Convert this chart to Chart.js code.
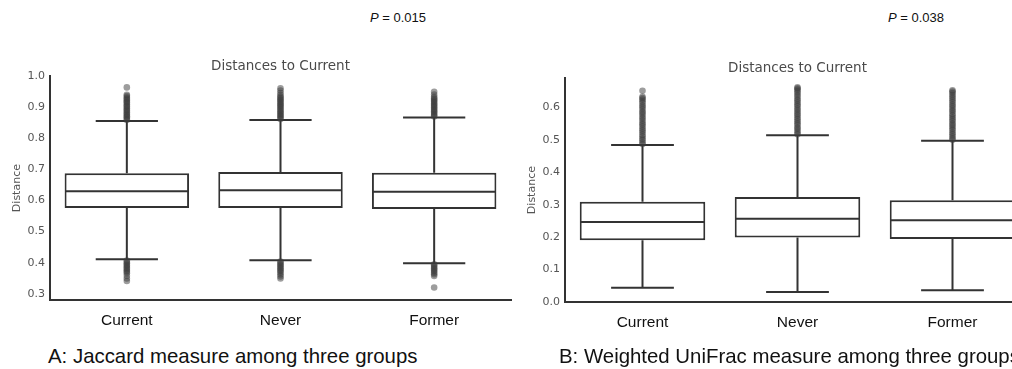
<!DOCTYPE html>
<html>
<head>
<meta charset="utf-8">
<script src="https://cdn.jsdelivr.net/npm/chart.js@4.4.1/dist/chart.umd.min.js"></script>
<style>
  html, body { margin:0; padding:0; background:#fff; width:1012px; height:369px; overflow:hidden; position:relative; }
  canvas { position:absolute; }
  .ptxt { position:absolute; font-family:"Liberation Sans", Arial, sans-serif; font-size:13px; line-height:13px; color:#111; white-space:nowrap; }
  .cap { position:absolute; font-family:"Liberation Sans", Arial, sans-serif; font-size:20.4px; line-height:20px; color:#111; white-space:nowrap; }
</style>
</head>
<body>
<div class="ptxt" style="left:370px; top:11px;"><i>P</i> = 0.015</div>
<div class="ptxt" style="left:888px; top:11px;"><i>P</i> = 0.038</div>
<canvas id="cA" width="520" height="340" style="left:0px; top:0px;"></canvas>
<canvas id="cB" width="530" height="340" style="left:510px; top:2px;"></canvas>
<div class="cap" style="left:48px; top:346px;">A: Jaccard measure among three groups</div>
<div class="cap" style="left:559px; top:346px;">B: Weighted UniFrac measure among three groups</div>
<script>
// ---------- data ----------
const categories = ['Current', 'Never', 'Former'];
const chartTitle = 'Distances to Current';
const yAxisTitle = 'Distance';

// Panel A: Jaccard
const yTicksA = [0.3, 0.4, 0.5, 0.6, 0.7, 0.8, 0.9, 1.0];
const q1A  = [0.576, 0.576, 0.573];
const medA = [0.630, 0.633, 0.628];
const q3A  = [0.688, 0.692, 0.689];
const loA  = [0.411, 0.408, 0.398];
const hiA  = [0.856, 0.859, 0.867];
const outCurrentA = [0.859,0.863,0.868,0.871,0.876,0.879,0.884,0.889,0.892,0.897,0.902,0.905,0.910,0.915,0.918,0.923,0.927,0.931,0.936,0.940,0.964,
                     0.407,0.402,0.398,0.393,0.389,0.384,0.380,0.375,0.371,0.366,0.358,0.349,0.341];
const outNeverA   = [0.862,0.866,0.871,0.874,0.879,0.883,0.887,0.892,0.896,0.901,0.905,0.909,0.913,0.918,0.922,0.926,0.930,0.934,0.939,0.946,0.954,0.961,
                     0.404,0.400,0.395,0.391,0.386,0.382,0.377,0.373,0.368,0.362,0.356,0.349];
const outFormerA  = [0.870,0.874,0.878,0.883,0.887,0.891,0.895,0.900,0.904,0.908,0.912,0.917,0.921,0.925,0.929,0.934,0.941,0.950,
                     0.395,0.391,0.386,0.382,0.377,0.373,0.368,0.363,0.357,0.320];

// Panel B: Weighted UniFrac
const yTicksB = [0.0, 0.1, 0.2, 0.3, 0.4, 0.5, 0.6];
const q1B  = [0.190, 0.199, 0.194];
const medB = [0.247, 0.257, 0.252];
const q3B  = [0.309, 0.324, 0.314];
const loB  = [0.044, 0.031, 0.036];
const hiB  = [0.484, 0.514, 0.497];
const outCurrentB = [0.487,0.492,0.499,0.504,0.511,0.516,0.523,0.529,0.534,0.541,0.547,0.552,0.559,0.565,0.570,0.577,0.583,0.588,0.595,0.601,0.606,0.613,0.619,0.624,0.629,0.633,0.651];
const outNeverB   = [0.517,0.522,0.528,0.534,0.539,0.546,0.551,0.557,0.563,0.568,0.575,0.580,0.586,0.592,0.597,0.604,0.609,0.615,0.621,0.626,0.633,0.638,0.644,0.650,0.655,0.659,0.662];
const outFormerB  = [0.500,0.505,0.511,0.517,0.522,0.529,0.534,0.540,0.546,0.551,0.558,0.563,0.569,0.575,0.580,0.587,0.592,0.598,0.604,0.609,0.616,0.621,0.627,0.633,0.638,0.644,0.649,0.653];

// ---------- drawing ----------
const LINE = '#333333';

const whiskerPlugin = {
  id: 'whiskers',
  afterDatasetDraw(chart, args, opts) {
    if (args.meta.type !== 'bar') return;
    const ctx = chart.ctx;
    const y = chart.scales.y;
    ctx.save();
    ctx.strokeStyle = LINE;
    ctx.lineWidth = 2;
    args.meta.data.forEach((bar, i) => {
      const cx = bar.x, half = bar.width / 2, capHalf = half / 2;
      const pQ1 = y.getPixelForValue(opts.q1[i]);
      const pQ3 = y.getPixelForValue(opts.q3[i]);
      const pMed = y.getPixelForValue(opts.med[i]);
      const pLo = y.getPixelForValue(opts.lo[i]);
      const pHi = y.getPixelForValue(opts.hi[i]);
      ctx.beginPath();
      // median
      ctx.moveTo(cx - half + 1, pMed); ctx.lineTo(cx + half - 1, pMed);
      // upper whisker
      ctx.moveTo(cx, pQ3); ctx.lineTo(cx, pHi);
      ctx.moveTo(cx - capHalf, pHi); ctx.lineTo(cx + capHalf, pHi);
      // lower whisker
      ctx.moveTo(cx, pQ1); ctx.lineTo(cx, pLo);
      ctx.moveTo(cx - capHalf, pLo); ctx.lineTo(cx + capHalf, pLo);
      ctx.stroke();
    });
    ctx.restore();
  }
};

function outlierPoints(lists) {
  const pts = [];
  lists.forEach((arr, i) => arr.forEach(v => pts.push({ x: categories[i], y: v })));
  return pts;
}

function makeChart(id, cfg) {
  return new Chart(document.getElementById(id), {
    type: 'bar',
    data: {
      labels: categories,
      datasets: [
        {
          type: 'bar',
          order: 2,
          data: cfg.q1.map((v, i) => [v, cfg.q3[i]]),
          backgroundColor: '#ffffff',
          borderColor: LINE,
          borderWidth: 2,
          borderSkipped: false,
          barPercentage: 0.81,
          categoryPercentage: 1.0
        },
        {
          type: 'scatter',
          order: 1,
          data: outlierPoints(cfg.outliers),
          pointRadius: 3.3,
          pointBorderWidth: 0,
          pointBackgroundColor: 'rgba(60,60,60,0.5)',
          pointHoverRadius: 3.3
        }
      ]
    },
    options: {
      responsive: false,
      animation: false,
      events: [],
      layout: { padding: { left: 0, top: 0, right: cfg.padRight, bottom: 0 } },
      plugins: {
        legend: { display: false },
        tooltip: { enabled: false },
        title: {
          display: true,
          text: chartTitle,
          fullSize: false,
          color: '#4a4a4a',
          font: { family: 'DejaVu Sans', size: 13.5, weight: 'normal' },
          padding: { top: 58, bottom: 2 }
        },
        whiskers: { q1: cfg.q1, q3: cfg.q3, med: cfg.med, lo: cfg.lo, hi: cfg.hi }
      },
      scales: {
        x: {
          type: 'category',
          offset: true,
          grid: { display: false, drawTicks: false },
          border: { display: true, color: LINE, width: 2 },
          ticks: { color: '#111', padding: 11, font: { family: 'Liberation Sans', size: 15.5 } },
          afterFit: s => { s.height = 40; }
        },
        y: {
          type: 'linear',
          min: cfg.yMin,
          max: cfg.yMax,
          grid: { display: false, drawTicks: false },
          border: { display: true, color: LINE, width: 2 },
          afterBuildTicks: s => { s.ticks = cfg.ticks.map(v => ({ value: v })); },
          ticks: {
            color: '#555',
            padding: 5,
            font: { family: 'DejaVu Sans', size: 11 },
            callback: v => Number(v).toFixed(1)
          },
          title: {
            display: true,
            text: yAxisTitle,
            color: '#555',
            font: { family: 'DejaVu Sans', size: 11 },
            padding: { top: cfg.titlePad, bottom: 0 }
          },
          afterFit: s => { s.width = cfg.axisWidth; }
        }
      }
    },
    plugins: [whiskerPlugin]
  });
}

makeChart('cA', {
  q1: q1A, q3: q3A, med: medA, lo: loA, hi: hiA,
  outliers: [outCurrentA, outNeverA, outFormerA],
  ticks: yTicksA, yMin: 0.28, yMax: 1.0,
  axisWidth: 50, titlePad: 11, padRight: 9
});
makeChart('cB', {
  q1: q1B, q3: q3B, med: medB, lo: loB, hi: hiB,
  outliers: [outCurrentB, outNeverB, outFormerB],
  ticks: yTicksB, yMin: 0.0, yMax: 0.69,
  axisWidth: 55, titlePad: 16, padRight: 10
});
</script>
</body>
</html>
